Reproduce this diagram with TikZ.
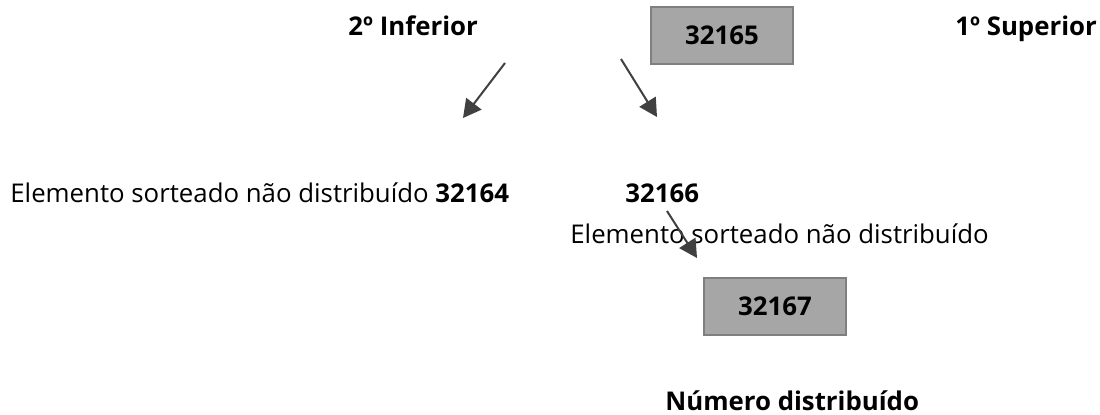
\documentclass[tikz,border=0pt]{standalone}
\usepackage{fontspec}
\setmainfont{Open Sans}
\usetikzlibrary{positioning,arrows.meta}

\definecolor{boxfill}{HTML}{A6A6A6}
\definecolor{boxline}{HTML}{7F7F7F}
\definecolor{seta}{HTML}{404040}

\tikzset{
  numbox/.style={draw=boxline, fill=boxfill, line width=1pt, minimum width=71pt, minimum height=28.5pt, inner sep=0pt},
  lbl/.style={inner sep=0pt, anchor=base west},
  ligar/.style={-{Triangle[length=9pt,width=9.5pt]}, draw=seta, line width=1pt}
}

\begin{document}
\begin{tikzpicture}[x=0.5pt,y=-0.5pt, every node/.append style={font=\fontsize{12.9}{15}\selectfont}]
\useasboundingbox (0,0) rectangle (1100,414);

% Nodes
\node[numbox] (sort) at (722,35.5) {\textbf{32165}};
\node[lbl] (inf) at (348,35) {\textbf{2º Inferior}};
\node[lbl] (sup) at (955,35) {\textbf{1º Superior}};

\node[lbl] (esq) at (10,202) {Elemento sorteado não distribuído \textbf{32164}};
\node[lbl] (dir) at (625,202) {\textbf{32166}};
\node[lbl] (naodist) at (570,243) {Elemento sorteado não distribuído};

\node[numbox] (dist) at (775,306) {\textbf{32167}};
\node[lbl] (numd) at (665,410) {\textbf{Número distribuído}};

% Arrow ends
\coordinate (a1) at (505,63);
\coordinate (a1e) at (463,118);
\coordinate (a2) at (621,59);
\coordinate (a2e) at (657,117);
\coordinate (a3) at (667,211);
\coordinate (a3e) at (697,258);

% Connect
\draw[ligar] (a1) -- (a1e);
\draw[ligar] (a2) -- (a2e);
\draw[ligar] (a3) -- (a3e);

\end{tikzpicture}
\end{document}
